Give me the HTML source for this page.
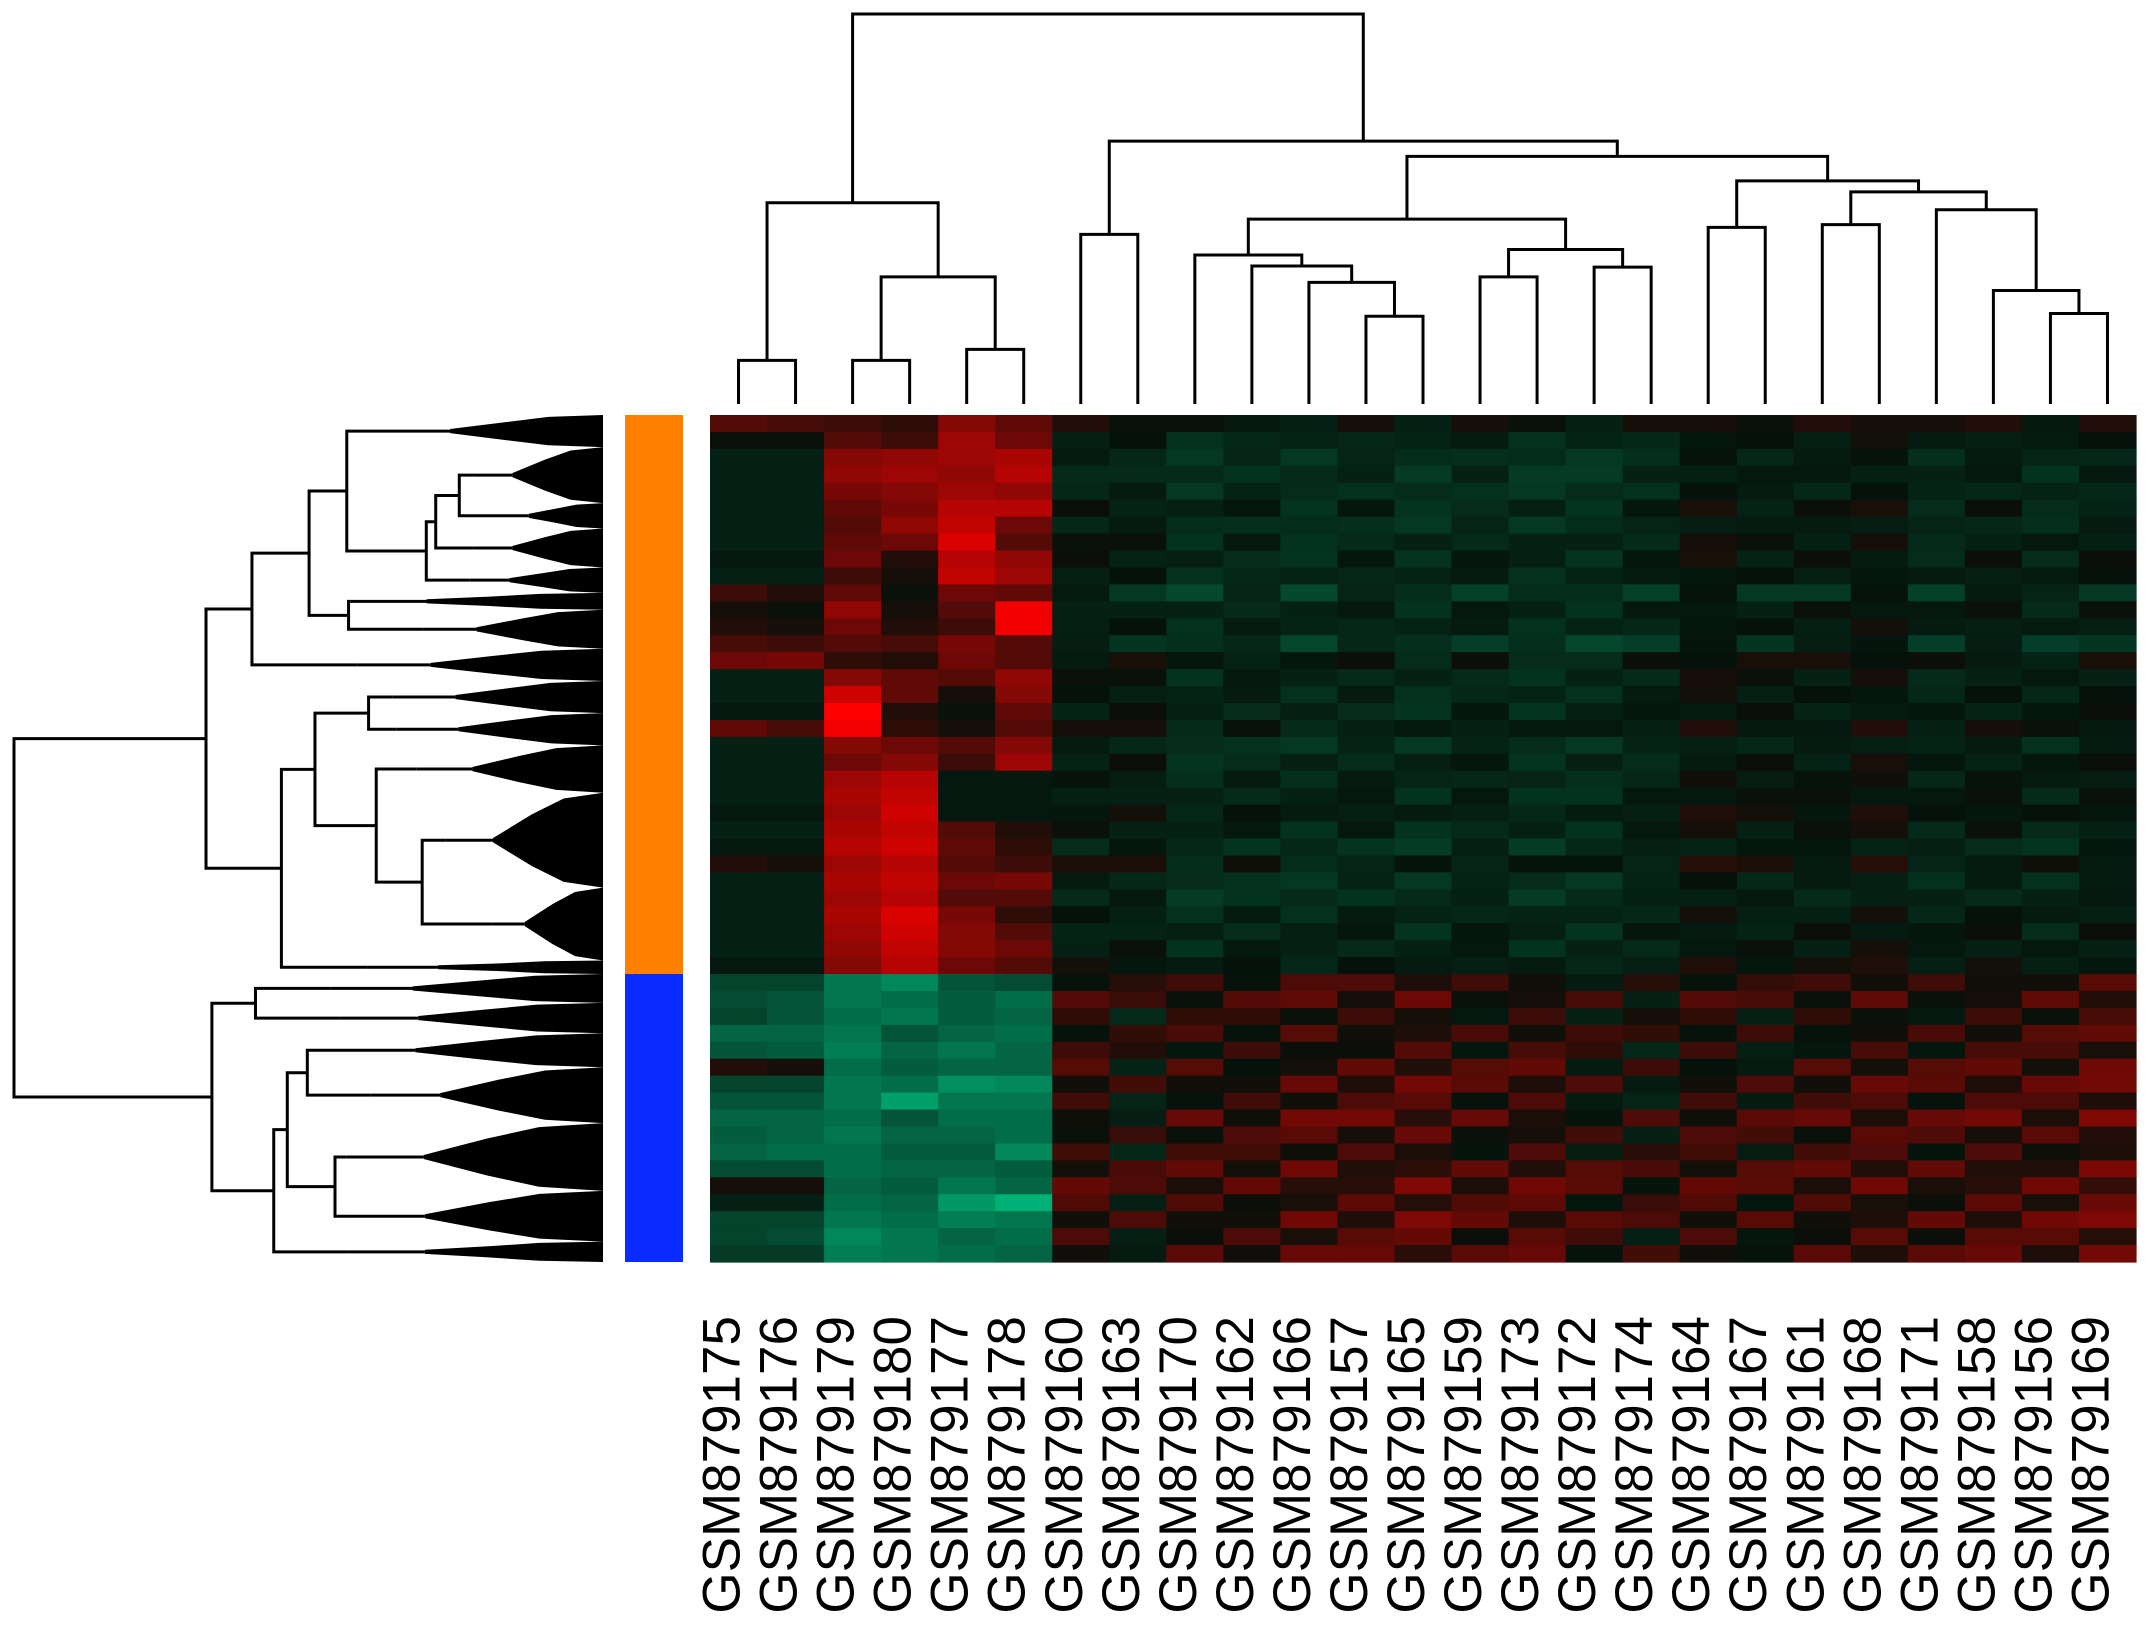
<!DOCTYPE html>
<html><head><meta charset="utf-8"><style>
html,body{margin:0;padding:0;background:#fff;}
svg{display:block;font-family:"Liberation Sans",sans-serif;}
</style></head><body>
<svg id="chart" width="2150" height="1635" viewBox="0 0 2150 1635" xmlns="http://www.w3.org/2000/svg">
<g id="coldend"></g>
<g id="rowdend"></g>
<g id="sidebar"></g>
<g id="heat"></g>
<g id="labels"></g>
</svg>
<script>
const samples = ["GSM879175","GSM879176","GSM879179","GSM879180","GSM879177","GSM879178","GSM879160","GSM879163","GSM879170","GSM879162","GSM879166","GSM879157","GSM879165","GSM879159","GSM879173","GSM879172","GSM879174","GSM879164","GSM879167","GSM879161","GSM879168","GSM879171","GSM879158","GSM879156","GSM879169"];
const colMerges = [[-1,-2],[-3,-4],[-5,-6],[2,3],[1,4],[-7,-8],[-12,-13],[-11,7],[-10,8],[-9,9],[-14,-15],[-16,-17],[11,12],[10,13],[-18,-19],[-20,-21],[-24,-25],[-23,17],[-22,18],[16,19],[15,20],[14,21],[6,22],[5,23]];
const colHeights = [1.12,1.12,1.40,3.26,5.16,4.35,2.25,3.12,3.54,3.82,3.26,3.51,3.96,4.74,4.53,4.60,2.32,2.91,4.98,5.44,5.72,6.35,6.74,10];
const firstCols = [
[0.3,0.25,0.2,0.15,0.5,0.35],[0,0,0.3,0.2,0.6,0.4],[-0.1,-0.1,0.5,0.55,0.6,0.65],[-0.1,-0.1,0.55,0.6,0.55,0.7],
[-0.1,-0.1,0.45,0.5,0.6,0.55],[-0.1,-0.1,0.35,0.45,0.7,0.7],[-0.1,-0.1,0.3,0.55,0.75,0.4],[-0.1,-0.1,0.35,0.4,0.85,0.3],
[-0.05,-0.05,0.4,0.1,0.7,0.55],[-0.1,-0.1,0.2,0.05,0.75,0.6],[0.2,0.1,0.35,0,0.4,0.35],[0.05,0,0.55,0.05,0.3,0.95],
[0.1,0.05,0.4,0.1,0.2,0.95],[0.25,0.2,0.3,0.25,0.45,0.3],[0.4,0.45,0.15,0.1,0.4,0.3],[-0.1,-0.1,0.5,0.35,0.3,0.55],
[-0.1,-0.1,0.8,0.35,0.05,0.5],[-0.05,-0.05,1,0.1,0,0.35],[0.35,0.25,0.95,0.15,0.05,0.3],[-0.1,-0.1,0.5,0.4,0.3,0.5],
[-0.1,-0.1,0.4,0.5,0.2,0.6],[-0.1,-0.1,0.6,0.7,-0.05,-0.05],[-0.1,-0.1,0.65,0.75,-0.05,-0.05],[-0.05,-0.05,0.6,0.8,-0.05,-0.05],
[-0.1,-0.1,0.65,0.75,0.3,0.1],[-0.05,-0.05,0.7,0.8,0.35,0.15],[0.1,0.05,0.6,0.7,0.3,0.2],[-0.1,-0.1,0.65,0.75,0.4,0.45],
[-0.1,-0.1,0.6,0.7,0.3,0.3],[-0.1,-0.1,0.65,0.85,0.45,0.15],[-0.1,-0.1,0.6,0.8,0.5,0.3],[-0.1,-0.1,0.55,0.75,0.5,0.4],
[-0.05,-0.05,0.5,0.7,0.4,0.3],
[-0.3,-0.3,-0.6,-0.7,-0.4,-0.35],[-0.35,-0.4,-0.6,-0.55,-0.45,-0.55],[-0.3,-0.4,-0.55,-0.6,-0.45,-0.5],[-0.5,-0.5,-0.6,-0.4,-0.5,-0.55],
[-0.4,-0.45,-0.65,-0.5,-0.6,-0.5],[0.1,0.05,-0.55,-0.45,-0.5,-0.5],[-0.3,-0.3,-0.6,-0.55,-0.75,-0.7],[-0.4,-0.4,-0.6,-0.85,-0.6,-0.6],
[-0.5,-0.5,-0.55,-0.4,-0.55,-0.55],[-0.45,-0.5,-0.6,-0.5,-0.5,-0.55],[-0.5,-0.55,-0.55,-0.45,-0.45,-0.7],[-0.35,-0.35,-0.55,-0.5,-0.5,-0.45],
[0.05,0.05,-0.5,-0.45,-0.6,-0.5],[-0.1,-0.1,-0.55,-0.5,-0.8,-0.95],[-0.3,-0.3,-0.6,-0.55,-0.65,-0.6],[-0.3,-0.35,-0.7,-0.6,-0.5,-0.55],
[-0.25,-0.25,-0.65,-0.6,-0.55,-0.5]];
const restBase = [0.05,-0.05,-0.1,-0.1,-0.1,-0.05,-0.1,-0.05,-0.05,-0.05,-0.15,-0.05,-0.05,-0.15,0,-0.05,-0.05,-0.05,0,-0.1,-0.05,-0.05,-0.05,0,-0.05,-0.1,0,-0.1,-0.1,-0.05,-0.05,-0.05,0,
0.1,0.15,0.05,0.12,0.08,0.15,0.18,0.1,0.2,0.14,0.1,0.2,0.22,0.15,0.2,0.14,0.18];
const rowJitter = [0.05,0.04,0.03,0.05,0.04,0.06,0.03,0.05,0.06,0.04,0.08,0.05,0.04,0.07,0.06,0.05,0.04,0.06,0.05,0.04,0.06,0.03,0.05,0.04,0.05,0.06,0.07,0.04,0.05,0.04,0.06,0.05,0.04,
0.12,0.15,0.1,0.14,0.12,0.16,0.15,0.12,0.18,0.14,0.13,0.16,0.15,0.14,0.17,0.13,0.15];
const restOffTop = [0,0,-0.1,-0.05,-0.1,-0.05,-0.1,-0.05,-0.1,-0.1,-0.05,0.05,0,0,0.05,-0.05,0,-0.05,0];
const restOffBot = [0,-0.1,0,0,0.05,0.05,0.1,0,0.05,-0.05,-0.1,0,-0.05,0,0.05,0,0.05,0.05,0.1];
const colJitterSign = [1,-1,1,-1,-1,1,-1,1,1,-1,1,-1,-1,1,-1,1,1,-1,1];
const topClusterRows = 33;
const rowTree = ['n',10,
 ['n',6.74,
  ['n',5.96,
   ['n',4.99,
    ['n',4.35,['b',3.71,0,1.9],
     ['n',3.0,
      ['n',2.84,['n',2.44,['b',2.2,1.9,5.2],['b',1.8,5.2,6.7]],['b',2.2,6.7,9.0]],
      ['b',2.27,9.0,10.5]]],
    ['n',4.32,['b',4.28,10.5,11.5],['b',3.07,11.5,13.8]]],
   ['b',4.18,13.8,15.7]],
  ['n',5.46,
   ['n',4.89,
    ['n',3.98,['b',3.58,15.7,17.6],['b',3.51,17.6,19.5]],
    ['n',3.85,['b',3.17,19.5,22.3],['n',3.07,['b',2.67,22.3,27.9],['b',1.9,27.9,32.2]]]],
   ['b',4.0,32.2,33]]],
 ['n',6.64,
  ['n',5.9,['b',4.62,33,34.7],['b',4.48,34.7,36.5]],
  ['n',5.59,
   ['n',5.36,
    ['n',5.02,['b',4.55,36.5,38.5],['b',3.95,38.5,41.8]],
    ['n',4.55,['b',4.35,41.8,45.8],['b',4.32,45.8,48.8]]],
   ['b',4.32,48.8,50]]]];

const NS="http://www.w3.org/2000/svg";
const HX0=710,HX1=2136,HY0=415,HY1=1262;
const nCols=samples.length,nRows=firstCols.length;
const cw=(HX1-HX0)/nCols,rh=(HY1-HY0)/nRows;
const colX=i=>HX0+cw*(i+0.5);
const rowY=r=>HY0+rh*r;
const colH=h=>404-h*39;
const rowH=h=>603-h*58.9;
function mk(tag,attrs,parent){const e=document.createElementNS(NS,tag);for(const k in attrs)e.setAttribute(k,attrs[k]);parent.appendChild(e);return e;}
function color(v){v=Math.max(-1,Math.min(1,v));let r,g,b;
 if(v>=0){r=10+245*v;g=16*(1-v);b=10*(1-v);}else{const a=-v;r=6*(1-a);g=16+170*a;b=10+115*a;}
 return `rgb(${r|0},${g|0},${b|0})`;}

const heat=document.getElementById('heat');
for(let r=0;r<nRows;r++){for(let c=0;c<nCols;c++){
 let v=c<6?firstCols[r][c]:restBase[r]+(r<topClusterRows?restOffTop:restOffBot)[c-6]+rowJitter[r]*colJitterSign[(c-6+r)%19];
 const e=mk('rect',{x:(HX0+cw*c).toFixed(2),y:rowY(r).toFixed(2),width:(cw+0.6).toFixed(2),height:(rh+0.6).toFixed(2),fill:color(v)},heat);
 
 
}}
const sb=document.getElementById('sidebar');
const s1=mk('rect',{x:625,y:HY0,width:58,height:rowY(topClusterRows)-HY0,fill:'#ff7f00'},sb);


const s2=mk('rect',{x:625,y:rowY(topClusterRows),width:58,height:HY1-rowY(topClusterRows),fill:'#0a2bff'},sb);



const cd=document.getElementById('coldend');
const mpos=[],mh=[];
function cpos(id){return id<0?[colX(-id-1),0]:[mpos[id-1],mh[id-1]];}
colMerges.forEach((m,i)=>{const [xa,ha]=cpos(m[0]),[xb,hb]=cpos(m[1]),h=colHeights[i];
 const p=mk('path',{d:`M${xa},${colH(ha)}V${colH(h)}H${xb}V${colH(hb)}`,fill:'none',stroke:'#000','stroke-width':3},cd);
 
 
 mpos.push((xa+xb)/2);mh.push(h);});

const rd=document.getElementById('rowdend');
function drawRow(n){
 if(n[0]==='b'){const h=n[1],y0=n[2],y1=n[3],yc=(y0+y1)/2;
  const l=mk('path',{d:`M${rowH(h)},${rowY(yc)}H${rowH(h*0.7)}`,stroke:'#000','stroke-width':3,fill:'none'},rd);
  
  
  const pts=[[rowH(h*0.7),rowY(yc-0.12)],[rowH(h*0.45),rowY(y0+(yc-y0)*0.45)],[rowH(h*0.25),rowY(y0+(yc-y0)*0.12)],[rowH(0),rowY(y0)],[rowH(0),rowY(y1)],[rowH(h*0.25),rowY(y1-(y1-yc)*0.12)],[rowH(h*0.45),rowY(y1-(y1-yc)*0.45)],[rowH(h*0.7),rowY(yc+0.12)]];
  const p=mk('polygon',{points:pts.map(q=>q.join(',')).join(' '),fill:'#000'},rd);
  
  
  return [yc,h];}
 const a=drawRow(n[2]),b=drawRow(n[3]),h=n[1];
 const p=mk('path',{d:`M${rowH(a[1])},${rowY(a[0])}H${rowH(h)}V${rowY(b[0])}H${rowH(b[1])}`,fill:'none',stroke:'#000','stroke-width':3},rd);
 
 
 return [(a[0]+b[0])/2,h];}
drawRow(rowTree);

const lb=document.getElementById('labels');
samples.forEach((s,i)=>{const x=colX(i)+1,y=1316;
 const t=mk('text',{x:x,y:y,transform:`rotate(-90 ${x} ${y})`,'text-anchor':'end','font-size':53,fill:'#000'},lb);
 t.textContent=s;
 
 });
</script>
</body></html>
